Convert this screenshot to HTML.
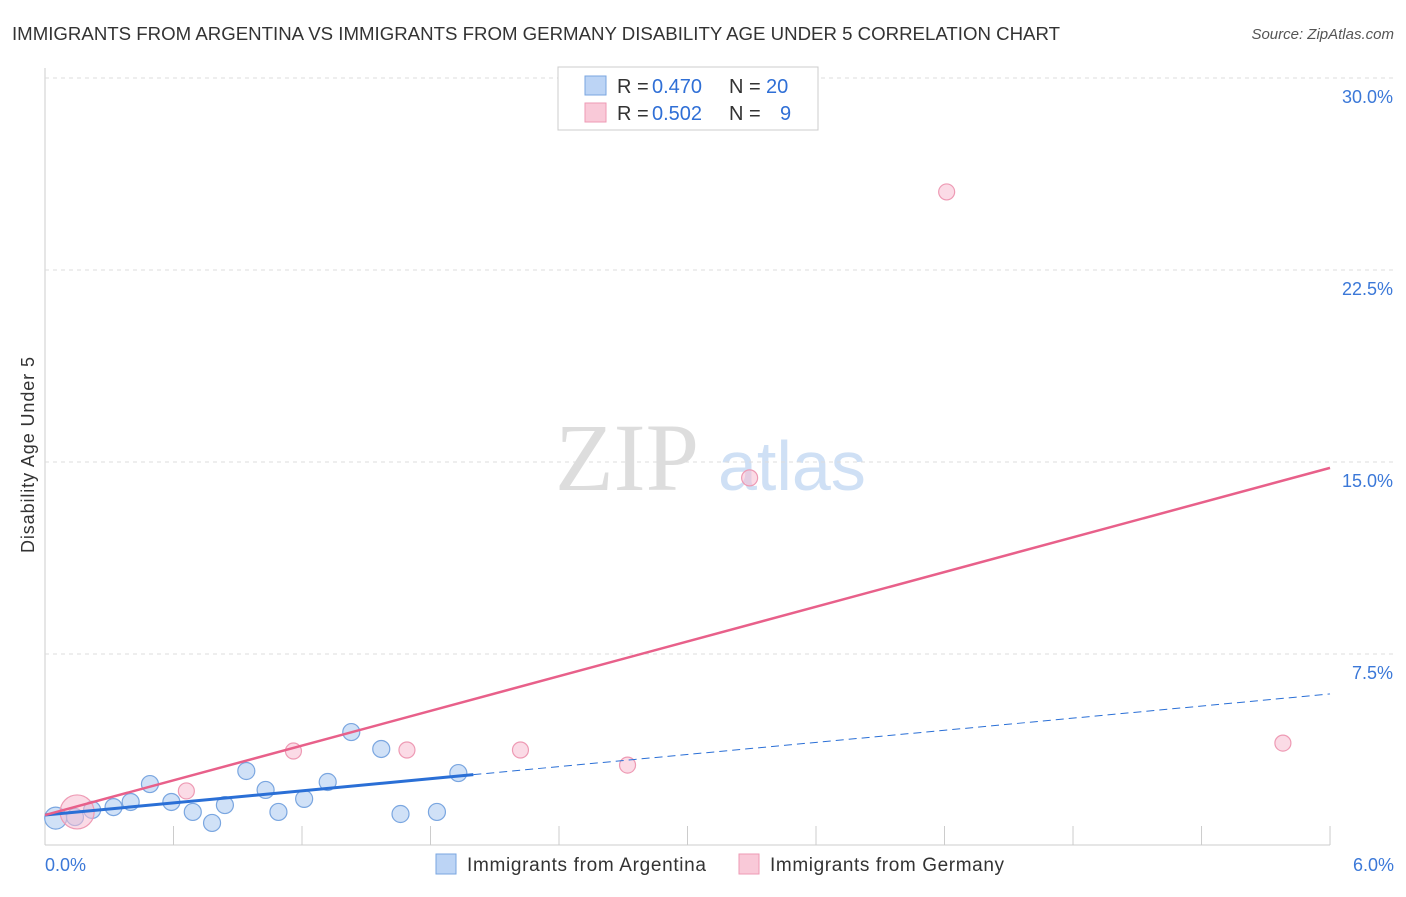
<!DOCTYPE html>
<html><head><meta charset="utf-8"><style>
body{margin:0;background:#fff;font-family:"Liberation Sans",sans-serif;}
</style></head><body>
<svg id="chart" width="1406" height="892" xmlns="http://www.w3.org/2000/svg">
<text x="12" y="40" font-size="18" fill="#333" textLength="1048" lengthAdjust="spacingAndGlyphs">IMMIGRANTS FROM ARGENTINA VS IMMIGRANTS FROM GERMANY DISABILITY AGE UNDER 5 CORRELATION CHART</text>
<text x="1394" y="39" font-size="15" fill="#555" font-style="italic" text-anchor="end">Source: ZipAtlas.com</text>
<text x="34" y="455" font-size="18" fill="#333" text-anchor="middle" textLength="196" transform="rotate(-90 34 455)">Disability Age Under 5</text>
<text x="555" y="490" font-size="96" fill="#ddd" font-family="Liberation Serif,serif">ZIP</text>
<text x="718" y="490" font-size="70" fill="#cfe0f5">atlas</text>
<g id="grid"></g>
<g id="marks"></g>
<g>
<rect x="558" y="67" width="260" height="63" fill="#fff" stroke="#ccc"/>
<rect x="585" y="76" width="21" height="19" fill="#bcd4f5" stroke="#7aa6e0"/>
<text x="617" y="93" font-size="20" fill="#333">R =</text><text x="652" y="93" font-size="20" fill="#2f6fd6">0.470</text>
<text x="729" y="93" font-size="20" fill="#333">N =</text><text x="766" y="93" font-size="20" fill="#2f6fd6">20</text>
<rect x="585" y="103" width="21" height="19" fill="#f9c9d8" stroke="#ee9ab4"/>
<text x="617" y="120" font-size="20" fill="#333">R =</text><text x="652" y="120" font-size="20" fill="#2f6fd6">0.502</text>
<text x="729" y="120" font-size="20" fill="#333">N =</text><text x="780" y="120" font-size="20" fill="#2f6fd6">9</text>
</g>
<g>
<rect x="436" y="854" width="20" height="20" fill="#bcd4f5" stroke="#7aa6e0"/>
<text x="467" y="871" font-size="19" fill="#333" textLength="239">Immigrants from Argentina</text>
<rect x="739" y="854" width="20" height="20" fill="#f9c9d8" stroke="#ee9ab4"/>
<text x="770" y="871" font-size="19" fill="#333" textLength="234">Immigrants from Germany</text>
</g>
</svg>
<script>
const yTicks=[7.5,15,22.5,30];
const yTickLabels=["7.5%","15.0%","22.5%","30.0%"];
const xTickLabels=["0.0%","6.0%"];
const argX=[0.05,0.14,0.22,0.32,0.40,0.49,0.59,0.69,0.78,0.84,0.94,1.03,1.09,1.21,1.32,1.43,1.57,1.66,1.83,1.93];
const argY=[1.09,1.13,1.41,1.52,1.72,2.42,1.72,1.33,0.90,1.60,2.93,2.19,1.33,1.84,2.50,4.45,3.79,1.25,1.33,2.85];
const gerX=[0.15,0.66,1.16,1.69,2.22,2.72,3.29,4.21,5.78];
const gerY=[1.33,2.15,3.71,3.75,3.75,3.16,14.38,25.55,4.02];
const argLine=[1.21,5.94];
const gerLine=[1.21,14.77];
const argSolidEnd=2.0;
const X=v=>45+v*214.17, Y=v=>846-v*25.6;
const ns="http://www.w3.org/2000/svg";
const g=document.getElementById('grid'), m=document.getElementById('marks');
function el(t,a,p){const e=document.createElementNS(ns,t);for(const k in a)e.setAttribute(k,a[k]);p.appendChild(e);return e;}
el('line',{x1:45,y1:68,x2:45,y2:845,stroke:'#ccc'},g);
el('line',{x1:45,y1:845,x2:1330,y2:845,stroke:'#ccc'},g);
yTicks.forEach((t,i)=>{
 const l=el('line',{x1:45,y1:Y(t),x2:1394,y2:Y(t),stroke:'#ddd','stroke-dasharray':'4,4'},g);
 
 
 const tx=el('text',{x:1393,y:Y(t)+25,'font-size':18,fill:'#3b78d8','text-anchor':'end'},g);
 tx.textContent=yTickLabels[i];
 
 
});
for(let i=1;i<=10;i++){const l=el('line',{x1:X(i*0.6),y1:826,x2:X(i*0.6),y2:845,stroke:'#ccc'},g);
 
 }
[[0,'start',45],[6,'end',1394]].forEach((d,i)=>{const t=el('text',{x:d[2],y:871,'font-size':18,fill:'#3b78d8','text-anchor':d[1]},g);
 t.textContent=xTickLabels[i];
 
 });
argX.forEach((x,i)=>{const c=el('circle',{cx:X(x),cy:Y(argY[i]),r:i==0?11:8.5,fill:'rgba(170,200,240,0.55)',stroke:'#7aa6e0','stroke-width':1.2},m);
 
 });
gerX.forEach((x,i)=>{const c=el('circle',{cx:X(x),cy:Y(gerY[i]),r:i==0?17:8,fill:'rgba(248,190,210,0.55)',stroke:'#ee9ab4','stroke-width':1.2},m);
 
 });
const ay=x=>argLine[0]+(argLine[1]-argLine[0])*x/6;
let l1=el('line',{x1:X(0),y1:Y(argLine[0]),x2:X(argSolidEnd),y2:Y(ay(argSolidEnd)),stroke:'#2a6fd6','stroke-width':3},m);


let l2=el('line',{x1:X(argSolidEnd),y1:Y(ay(argSolidEnd)),x2:X(6),y2:Y(argLine[1]),stroke:'#2a6fd6','stroke-width':1,'stroke-dasharray':'8,5'},m);


let l3=el('line',{x1:X(0),y1:Y(gerLine[0]),x2:X(6),y2:Y(gerLine[1]),stroke:'#e8608a','stroke-width':2.5},m);


</script>
</body></html>
